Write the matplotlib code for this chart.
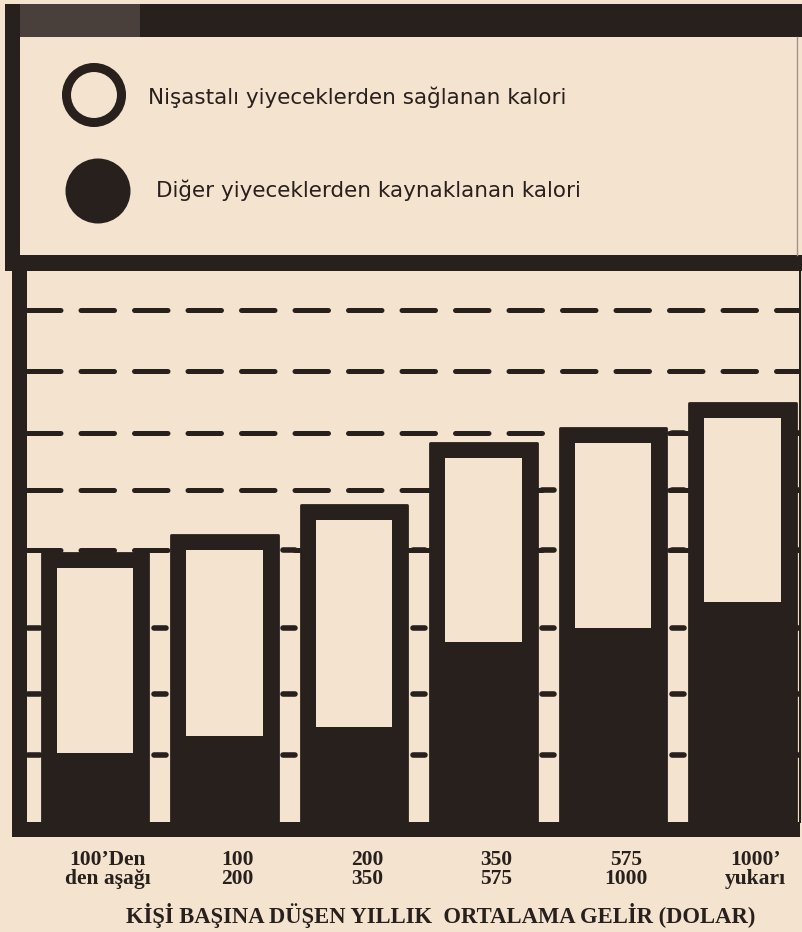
import matplotlib.pyplot as plt
from matplotlib.patches import Rectangle, Circle
import numpy as np

# income groups (dollars per person per year)
categories = ["100’Den\nden aşağı", "100\n200", "200\n350", "350\n575", "575\n1000", "1000’\nyukarı"]
# calories per person per day
other_kcal = [525, 655, 720, 1370, 1475, 1670]
starch_kcal = [1520, 1525, 1690, 1510, 1520, 1515]
guide_levels = [510, 975, 1475, 2065, 2525, 2955, 3430, 3890]

starch_label = "Nişastalı yiyeceklerden sağlanan kalori"
other_label = "Diğer yiyeceklerden kaynaklanan kalori"
xlabel = "KİŞİ BAŞINA DÜŞEN YILLIK  ORTALAMA GELİR (DOLAR)"

PAPER = "#f4e3cf"
INK = "#28201d"
W, H = 803, 932

fig = plt.figure(figsize=(W / 100, H / 100), dpi=100, facecolor=PAPER)

# frame and legend, drawn in pixel units
bg = fig.add_axes([0, 0, 1, 1])
bg.set_xlim(0, W)
bg.set_ylim(H, 0)
bg.axis("off")


def block(x0, y0, x1, y1, color=INK):
    bg.add_patch(Rectangle((x0, y0), x1 - x0, y1 - y0, color=color, lw=0))


block(5, 4, W, 37)
block(5, 4, 140, 37, "#4a403b")
block(5, 4, 20, 262)
block(5, 255, W, 271)
block(12, 262, 27, 837)
block(12, 822, 800, 837)
bg.plot([797, 797], [37, 255], color="#a09489", lw=1)
bg.plot([800, 800], [271, 822], color=INK, lw=1.5)

bg.add_patch(Circle((94, 95), 27.5, fill=False, ec=INK, lw=6.5))
bg.add_patch(Circle((98, 191), 32.5, color=INK, lw=0))
bg.text(148, 97, starch_label, va="center", fontsize=15.5, family="DejaVu Sans", color=INK)
bg.text(156, 190, other_label, va="center", fontsize=15.5, family="DejaVu Sans", color=INK)

# bar chart
ax = fig.add_axes([27 / W, (H - 822) / H, 772 / W, 551 / H])
ax.set_facecolor(PAPER)
x = np.arange(len(categories))
other = np.array(other_kcal)
starch = np.array(starch_kcal)
total = other + starch
ax.set_xlim(-0.525, 5.436)
ax.set_ylim(0, 4190)

px_x = 772 / (5.436 + 0.525)
px_y = 551 / 4190
bx = 15 / px_x
by = 15 / px_y
width = 0.82

for lev in guide_levels:
    if lev > 2000:
        ax.axhline(lev, color=INK, lw=3.6, dashes=(6.7, 4), dash_capstyle="round", zorder=1)

# short marks in the light strips between the columns
gaps = [-0.47] + list(x[:-1] + 0.5) + [5.436]
tops = [total[0]] + list(np.minimum(total[:-1], total[1:])) + [total[-1]]
half = 6 / px_x
for g, t in zip(gaps, tops):
    levs = [lv for lv in guide_levels if lv < t]
    ticks = ax.hlines(levs, g - half, g + half, color=INK, lw=4, zorder=2)
    ticks.set_capstyle("round")

ax.bar(x, total, width, color=INK, edgecolor=INK, lw=2, joinstyle="round", zorder=3)
ax.bar(x, starch - by, width - 2 * bx, bottom=other, color=PAPER, lw=0, zorder=4)

ax.set_xticks(x + 0.1, categories)
for lab in ax.get_xticklabels():
    lab.set_family("Liberation Serif")
    lab.set_weight("bold")
    lab.set_fontsize(15.5)
    lab.set_linespacing(0.92)
    lab.set_color(INK)
ax.tick_params(length=0, pad=20)
ax.set_yticks([])
for s in ax.spines.values():
    s.set_visible(False)

fig.text(441 / W, 1 - 915 / H, xlabel, ha="center", va="center", family="Liberation Serif",
         weight="bold", fontsize=16.3, color=INK)

fig.savefig("out.png", dpi=100, facecolor=PAPER)
